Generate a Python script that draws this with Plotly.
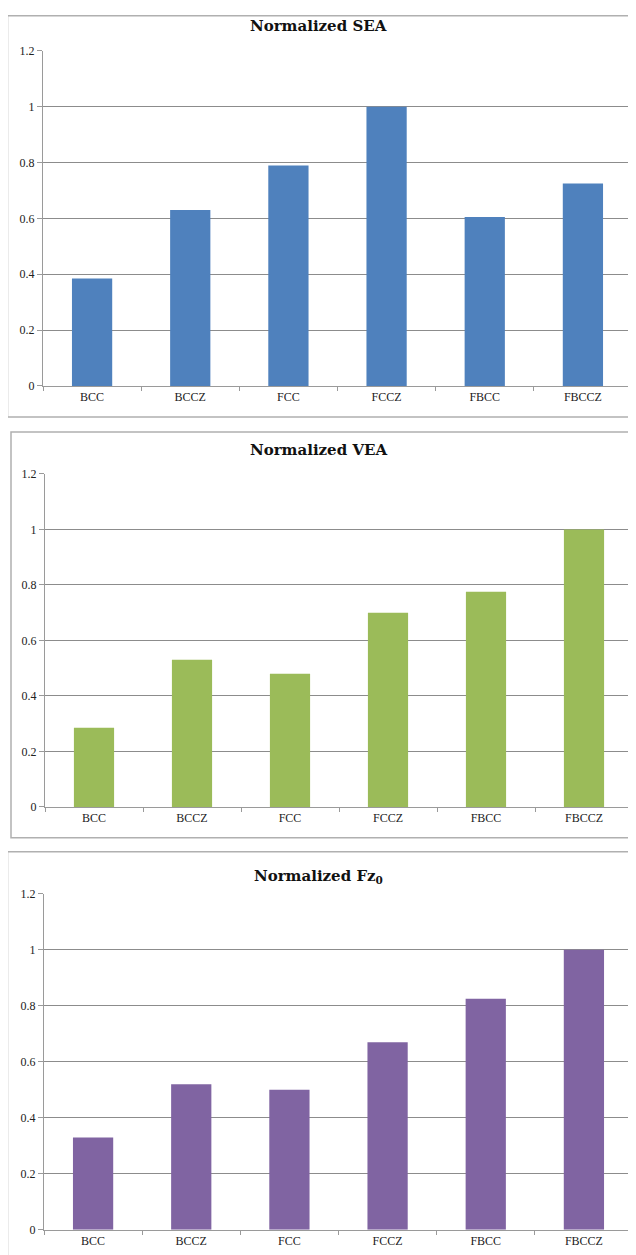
import plotly.graph_objects as go

categories = ["BCC", "BCCZ", "FCC", "FCCZ", "FBCC", "FBCCZ"]
sea_values = [0.385, 0.63, 0.79, 1.0, 0.605, 0.725]
vea_values = [0.285, 0.53, 0.48, 0.70, 0.775, 1.0]
fz0_values = [0.33, 0.52, 0.50, 0.67, 0.825, 1.0]
titles = ["Normalized SEA", "Normalized VEA", "Normalized Fz<sub>0</sub>"]
colors = ["#4F81BD", "#9BBB59", "#8064A2"]
y_ticks = [0, 0.2, 0.4, 0.6, 0.8, 1.0, 1.2]

W, H = 636, 1255
X_OFF = 8      # horizontal offset of the figure on the page
Y_OFF = 14     # vertical offset of the figure on the page
Y_SCALE = 0.989

def px(x):
    return (x - X_OFF) / W

def py(y):
    return 1 - ((y - Y_OFF) / Y_SCALE) / H

# panel geometry in screen pixels
panels = [
    dict(box=(7.5, 14.8, 660, 416), x0=43, x1=632, ytop=50, ybot=385, title_y=25),
    dict(box=(11, 431, 660, 837), x0=45, x1=633, ytop=473, ybot=806, title_y=449),
    dict(box=(7.5, 851, 660, 1290), x0=44, x1=633, ytop=893, ybot=1229, title_y=876),
]
series = [sea_values, vea_values, fz0_values]

fig = go.Figure()
shapes = []
annotations = []
for i, (p, vals) in enumerate(zip(panels, series)):
    n = "" if i == 0 else str(i + 1)
    fig.add_trace(go.Bar(x=categories, y=vals, marker=dict(color=colors[i], line=dict(width=0)),
                         xaxis="x" + n, yaxis="y" + n, showlegend=False))
    axis_font = dict(family="Liberation Serif", size=12, color="#222")
    fig.update_layout(**{
        "xaxis" + n: dict(domain=[px(p["x0"]), min(1, px(p["x1"]))], anchor="y" + n,
                          showline=True, linecolor="#9a9a9a", linewidth=1,
                          ticks="outside", tickson="boundaries", ticklen=4, tickcolor="#9a9a9a",
                          tickfont=axis_font, showgrid=False, fixedrange=True),
        "yaxis" + n: dict(domain=[py(p["ybot"]), py(p["ytop"])], anchor="x" + n,
                          range=[0, 1.2], tickvals=y_ticks,
                          ticktext=["0", "0.2", "0.4", "0.6", "0.8", "1", "1.2"],
                          showline=True, linecolor="#9a9a9a", linewidth=1,
                          ticks="outside", ticklen=5, tickcolor="#9a9a9a",
                          showgrid=True, gridcolor="#8c8c8c", gridwidth=1,
                          zeroline=False, tickfont=axis_font, fixedrange=True),
    })
    bx0, by0, bx1, by1 = p["box"]
    shapes.append(dict(type="rect", xref="paper", yref="paper",
                       x0=px(bx0), x1=px(bx1), y0=py(by1), y1=py(by0),
                       line=dict(color="#b0b0b0", width=1.5), layer="below"))
    annotations.append(dict(text="<b>" + titles[i] + "</b>", xref="paper", yref="paper",
                            x=px(318), y=py(p["title_y"]), xanchor="center", yanchor="middle",
                            showarrow=False,
                            font=dict(family="DejaVu Serif", size=15, color="#111")))

fig.update_layout(width=W, height=H, margin=dict(l=0, r=0, t=0, b=0),
                  paper_bgcolor="white", plot_bgcolor="white",
                  bargap=0.59, shapes=shapes, annotations=annotations)

fig.write_html("out.html")
